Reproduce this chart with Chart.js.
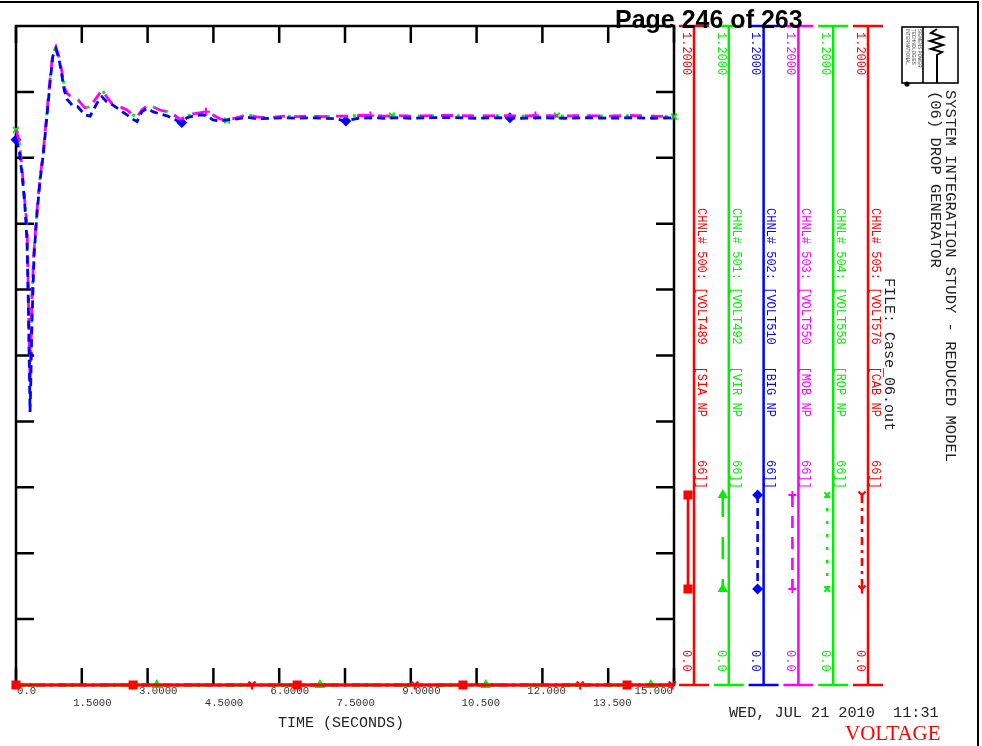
<!DOCTYPE html>
<html>
<head>
<meta charset="utf-8">
<script src="https://cdn.jsdelivr.net/npm/chart.js@4/dist/chart.umd.min.js"></script>
<style>
  html, body { margin: 0; padding: 0; background: #fff; }
  canvas { display: block; }
</style>
</head>
<body>
<canvas id="plot" width="982" height="746"></canvas>
<script>
// ---- channel data: bus voltages (pu) against simulation time (s) ----
const TIME = [0, 0.07, 0.14, 0.20, 0.25, 0.28, 0.30, 0.32, 0.34, 0.36,
  0.41, 0.48, 0.55, 0.62, 0.71, 0.78, 0.84, 0.91, 0.98, 1.05,
  1.10, 1.16, 1.28, 1.41, 1.57, 1.69, 1.85, 1.96, 2.07, 2.21,
  2.37, 2.53, 2.67, 2.76, 2.87, 2.99, 3.12, 3.28, 3.46, 3.62,
  3.74, 3.90, 4.03, 4.19, 4.35, 4.49, 4.65, 4.81, 5.04, 5.27,
  5.50, 5.80, 6.10, 6.40, 6.70, 7.00, 7.30, 7.50, 7.80, 8.10,
  8.40, 8.70, 9.00, 9.50, 10.0, 10.5, 11.0, 11.5, 12.0, 12.5,
  13.0, 13.5, 14.0, 14.5, 15.0];

const VOLT510 = [0.993, 0.975, 0.929, 0.875, 0.810, 0.700, 0.600, 0.497, 0.560, 0.650,
  0.780, 0.860, 0.920, 0.965, 1.040, 1.100, 1.145, 1.158, 1.140, 1.108,
  1.083, 1.067, 1.056, 1.053, 1.038, 1.036, 1.060, 1.071, 1.062, 1.056,
  1.047, 1.038, 1.030, 1.026, 1.044, 1.050, 1.044, 1.040, 1.036, 1.030,
  1.024, 1.033, 1.036, 1.038, 1.037, 1.029, 1.027, 1.029, 1.031, 1.034,
  1.031, 1.032, 1.033, 1.032, 1.033, 1.032, 1.031, 1.027, 1.032, 1.033,
  1.032, 1.033, 1.032, 1.033, 1.033, 1.032, 1.033, 1.032, 1.033, 1.032,
  1.033, 1.032, 1.033, 1.032, 1.033];

const VOLT550 = [1.011, 0.993, 0.938, 0.880, 0.838, 0.720, 0.628, 0.552, 0.610, 0.700,
  0.790, 0.865, 0.925, 0.969, 1.047, 1.107, 1.150, 1.162, 1.144, 1.115,
  1.089, 1.078, 1.069, 1.066, 1.051, 1.053, 1.071, 1.084, 1.071, 1.056,
  1.053, 1.047, 1.038, 1.035, 1.047, 1.055, 1.053, 1.047, 1.044, 1.037,
  1.030, 1.036, 1.040, 1.042, 1.044, 1.038, 1.031, 1.029, 1.033, 1.039,
  1.034, 1.033, 1.036, 1.035, 1.036, 1.035, 1.036, 1.036, 1.037, 1.037,
  1.036, 1.037, 1.036, 1.037, 1.037, 1.036, 1.037, 1.036, 1.037, 1.036,
  1.037, 1.036, 1.037, 1.036, 1.035];

const VOLT558 = [1.011, 0.993, 0.938, 0.880, 0.838, 0.720, 0.628, 0.552, 0.610, 0.700,
  0.790, 0.865, 0.925, 0.969, 1.047, 1.107, 1.150, 1.162, 1.144, 1.115,
  1.089, 1.078, 1.069, 1.066, 1.051, 1.053, 1.071, 1.084, 1.071, 1.056,
  1.053, 1.047, 1.038, 1.035, 1.047, 1.055, 1.053, 1.047, 1.044, 1.037,
  1.030, 1.036, 1.040, 1.042, 1.044, 1.038, 1.031, 1.028, 1.033, 1.039,
  1.034, 1.033, 1.036, 1.035, 1.036, 1.035, 1.036, 1.036, 1.037, 1.037,
  1.036, 1.037, 1.036, 1.037, 1.037, 1.036, 1.037, 1.036, 1.037, 1.036,
  1.037, 1.036, 1.037, 1.036, 1.035];

// channels that stay at zero for the whole run
const FLAT_TIME = [0, 15];
const VOLT489 = [0, 0];
const VOLT492 = [0, 0];
const VOLT576 = [0, 0];

// symbol positions along each trace
const MARK_T_500 = [0, 2.67, 6.41, 10.19, 13.93];
const MARK_V_500 = [0, 0, 0, 0, 0];
const MARK_T_501 = [3.21, 6.93, 10.71, 14.47];
const MARK_V_501 = [0, 0, 0, 0];
const MARK_T_502 = [0, 3.78, 7.52, 11.26];
const MARK_V_502 = [0.993, 1.024, 1.027, 1.033];
const MARK_T_503 = [4.33, 8.08, 11.84];
const MARK_V_503 = [1.044, 1.037, 1.037];
const MARK_T_504 = [0, 4.81, 8.57, 12.33, 15];
const MARK_V_504 = [1.011, 1.028, 1.037, 1.037, 1.035];
const MARK_T_505 = [5.38, 9.09, 12.86, 14.96];
const MARK_V_505 = [0, 0, 0, 0];

// axis ticks and labels
const X_TICKS = [0, 1.5, 3, 4.5, 6, 7.5, 9, 10.5, 12, 13.5, 15];
const X_LABELS = ['0.0', '1.5000', '3.0000', '4.5000', '6.0000', '7.5000', '9.0000', '10.500', '12.000', '13.500', '15.000'];
const Y_TICKS = [0.12, 0.24, 0.36, 0.48, 0.60, 0.72, 0.84, 0.96, 1.08];
const CH_MIN = 0, CH_MAX = 1.2;
const CH_MIN_LABEL = '0.0', CH_MAX_LABEL = '1.2000';

const CH_NUMBERS = [500, 501, 502, 503, 504, 505];
const CH_NAMES = ['VOLT489', 'VOLT492', 'VOLT510', 'VOLT550', 'VOLT558', 'VOLT576'];
const CH_BUSES = ['SIA NP', 'VIR NP', 'BIG NP', 'MOB NP', 'ROP NP', 'CAB NP'];

// ---- styling ----
const RED = '#ff0000', GREEN = '#00f000', BLUE = '#0000ff', MAGENTA = '#ff00ff';
const MONO = '"Liberation Mono", "DejaVu Sans Mono", monospace';

function yMarker(color) {
  const c = document.createElement('canvas');
  c.width = 10; c.height = 10;
  const g = c.getContext('2d');
  g.strokeStyle = color; g.lineWidth = 2.3;
  g.beginPath();
  g.moveTo(1.5, 1.5); g.lineTo(5, 5); g.lineTo(8.5, 1.5);
  g.moveTo(5, 5); g.lineTo(5, 9.5);
  g.stroke();
  return c;
}

const STYLES = [
  { color: RED,     dash: [],              point: 'rect',      r: 5 },
  { color: GREEN,   dash: [22, 20],        point: 'triangle',  r: 4 },
  { color: BLUE,    dash: [8, 5],          point: 'rectRot',   r: 4 },
  { color: MAGENTA, dash: [12, 9],         point: 'cross',     r: 4 },
  { color: GREEN,   dash: [3, 10],         point: 'crossRot',  r: 4 },
  { color: RED,     dash: [8, 5, 3, 5],    point: yMarker(RED), r: 5 }
];

const pts = (xs, ys) => xs.map((x, i) => ({ x, y: ys[i] }));

function lineSet(ch, xs, ys) {
  const s = STYLES[ch];
  return {
    data: pts(xs, ys), borderColor: s.color, borderWidth: 2.8, borderDash: s.dash,
    pointRadius: 0, fill: false, tension: 0, clip: false, borderCapStyle: 'butt'
  };
}
function markSet(ch, xs, ys) {
  const s = STYLES[ch];
  return {
    data: pts(xs, ys), showLine: false, pointStyle: s.point, pointRadius: s.r,
    pointBackgroundColor: s.color, pointBorderColor: s.color, pointBorderWidth: 2, clip: false
  };
}

const datasets = [
  lineSet(0, FLAT_TIME, VOLT489),
  lineSet(5, FLAT_TIME, VOLT576),
  lineSet(1, FLAT_TIME, VOLT492),
  lineSet(2, TIME, VOLT510),
  lineSet(3, TIME, VOLT550),
  lineSet(4, TIME, VOLT558),
  markSet(0, MARK_T_500, MARK_V_500),
  markSet(1, MARK_T_501, MARK_V_501),
  markSet(5, MARK_T_505, MARK_V_505),
  markSet(2, MARK_T_502, MARK_V_502),
  markSet(3, MARK_T_503, MARK_V_503),
  markSet(4, MARK_T_504, MARK_V_504)
];

function rotText(ctx, text, cx, y0, font, color) {
  ctx.save();
  ctx.translate(cx, y0);
  ctx.rotate(Math.PI / 2);
  ctx.font = font;
  ctx.fillStyle = color;
  ctx.textAlign = 'left';
  ctx.textBaseline = 'middle';
  ctx.fillText(text, 0, 0);
  ctx.restore();
}

// plot frame with inward ticks and the time labels
const framePlugin = {
  id: 'frame',
  beforeDatasetsDraw(chart) {
    const { ctx, chartArea: a, scales: { x, y } } = chart;
    ctx.save();
    ctx.strokeStyle = '#000';
    ctx.lineWidth = 2.5;
    ctx.strokeRect(a.left, a.top, a.right - a.left, a.bottom - a.top);
    ctx.beginPath();
    Y_TICKS.forEach(v => {
      const py = y.getPixelForValue(v);
      ctx.moveTo(a.left, py); ctx.lineTo(a.left + 18, py);
      ctx.moveTo(a.right, py); ctx.lineTo(a.right - 18, py);
    });
    X_TICKS.forEach(v => {
      const px = x.getPixelForValue(v);
      ctx.moveTo(px, a.top); ctx.lineTo(px, a.top + 17);
      ctx.moveTo(px, a.bottom); ctx.lineTo(px, a.bottom - 17);
    });
    ctx.stroke();

    ctx.font = '10.7px ' + MONO;
    ctx.fillStyle = '#333';
    ctx.textBaseline = 'alphabetic';
    ctx.textAlign = 'left';
    const cw = ctx.measureText('0').width;
    X_LABELS.forEach((lab, i) => {
      const px = x.getPixelForValue(X_TICKS[i]);
      const dot = lab.indexOf('.');
      let sx = px - (dot + 0.5) * cw + 1;
      sx = Math.max(sx, a.left + 1);
      sx = Math.min(sx, a.right - 1 - lab.length * cw);
      ctx.fillText(lab, sx, i % 2 === 0 ? 694 : 706);
    });

    ctx.font = '15px ' + MONO;
    ctx.fillStyle = '#222';
    ctx.fillText('TIME (SECONDS)', 278, 727);
    ctx.restore();
  }
};

// channel axes, legend samples, titles and page decorations
const panelPlugin = {
  id: 'panel',
  afterDatasetsDraw(chart) {
    const { ctx, scales: { y } } = chart;
    const top = y.getPixelForValue(CH_MAX), bot = y.getPixelForValue(CH_MIN);
    const legTop = 495, legBot = 589;
    ctx.save();
    CH_NUMBERS.forEach((num, i) => {
      const s = STYLES[i];
      const ax = 694 + 34.8 * i;
      ctx.strokeStyle = s.color;
      ctx.lineWidth = 2.5;
      ctx.setLineDash([]);
      ctx.beginPath();
      ctx.moveTo(ax, top); ctx.lineTo(ax, bot);
      ctx.moveTo(ax - 15, top); ctx.lineTo(ax + 15, top);
      ctx.moveTo(ax - 15, bot); ctx.lineTo(ax + 15, bot);
      ctx.stroke();

      const f = '12px ' + MONO;
      rotText(ctx, CH_MAX_LABEL, ax - 8, 32, f, s.color);
      rotText(ctx, CH_MIN_LABEL, ax - 8, 650, f, s.color);
      const label = 'CHNL# ' + num + ': [' + CH_NAMES[i] + '   [' + CH_BUSES[i] + '      66]]';
      rotText(ctx, label, ax + 7, 208, f, s.color);

      // legend sample: line segment between two symbols
      const lx = ax - 6;
      ctx.lineWidth = 2.6;
      ctx.setLineDash(s.dash);
      ctx.beginPath();
      ctx.moveTo(lx, legTop); ctx.lineTo(lx, legBot);
      ctx.stroke();
      ctx.setLineDash([]);
      ctx.fillStyle = s.color;
      ctx.lineWidth = 2;
      [legTop, legBot].forEach(py => {
        Chart.helpers.drawPoint(ctx, { pointStyle: s.point, radius: s.r, rotation: 0, borderWidth: 2 }, lx, py);
      });
    });

    // titles
    const tf = '15.5px ' + MONO;
    rotText(ctx, 'SYSTEM INTEGRATION STUDY - REDUCED MODEL', 950, 90, tf, '#222');
    rotText(ctx, '(06) DROP GENERATOR', 935, 91, tf, '#222');
    rotText(ctx, 'FILE: Case_06.out', 889, 278, '15px ' + MONO, '#222');

    ctx.font = '15.2px ' + MONO;
    ctx.fillStyle = '#222';
    ctx.textAlign = 'left';
    ctx.textBaseline = 'alphabetic';
    ctx.fillText('WED, JUL 21 2010  11:31', 729, 717);
    ctx.font = '21px "Liberation Serif", serif';
    ctx.fillStyle = RED;
    ctx.fillText('VOLTAGE', 845, 740);

    // logo block
    ctx.strokeStyle = '#000';
    ctx.lineWidth = 1.6;
    ctx.strokeRect(902, 27, 56, 56);
    ctx.beginPath();
    ctx.moveTo(923, 27); ctx.lineTo(923, 83);
    ctx.stroke();
    ctx.lineWidth = 2;
    ctx.beginPath();
    ctx.moveTo(937, 29); ctx.lineTo(931, 33); ctx.lineTo(943, 37); ctx.lineTo(930, 41);
    ctx.lineTo(943, 45); ctx.lineTo(931, 49); ctx.lineTo(942, 52); ctx.lineTo(937, 55);
    ctx.lineTo(937, 83);
    ctx.stroke();
    ctx.fillStyle = '#000';
    ctx.beginPath();
    ctx.arc(907, 84, 2.6, 0, Math.PI * 2);
    ctx.fill();
    const lf = '4.5px "Liberation Sans", sans-serif';
    rotText(ctx, 'SIEMENS POWER', 919, 29, lf, '#333');
    rotText(ctx, 'TECHNOLOGIES', 913, 29, lf, '#333');
    rotText(ctx, 'INTERNATIONAL', 907, 29, lf, '#333');

    // page border
    ctx.lineWidth = 2;
    ctx.beginPath();
    ctx.moveTo(0, 2); ctx.lineTo(978, 2); ctx.lineTo(978, 746);
    ctx.stroke();

    ctx.font = 'bold 25px "Liberation Sans", Arial, sans-serif';
    ctx.fillStyle = '#000';
    ctx.fillText('Page 246 of 263', 615, 28);
    ctx.restore();
  }
};

new Chart(document.getElementById('plot'), {
  type: 'line',
  data: { datasets },
  options: {
    responsive: false,
    animation: false,
    devicePixelRatio: 1,
    layout: { padding: { left: 16, top: 26, right: 308, bottom: 61 } },
    scales: {
      x: { type: 'linear', min: 0, max: 15, display: false },
      y: { type: 'linear', min: CH_MIN, max: CH_MAX, display: false }
    },
    plugins: { legend: { display: false }, tooltip: { enabled: false } },
    events: []
  },
  plugins: [framePlugin, panelPlugin]
});
</script>
</body>
</html>
